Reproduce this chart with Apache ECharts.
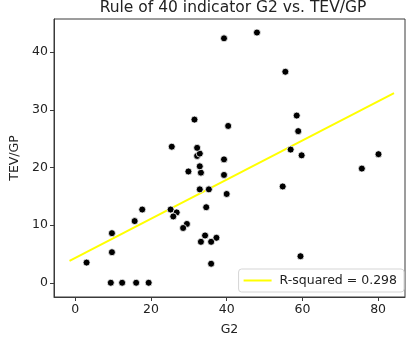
<!DOCTYPE html>
<html><head><meta charset="utf-8">
<script src="https://cdn.jsdelivr.net/npm/echarts@6/dist/echarts.min.js"></script>
<style>html,body{margin:0;padding:0;background:#fff}#c{width:408px;height:341px}</style>
</head><body><div id="c"></div>
<script>
var g2 = [3.0, 9.4, 12.4, 16.1, 19.4, 9.7, 9.7, 15.7, 17.7, 25.2, 26.8, 25.9, 29.5, 28.5,
  34.3, 37.3, 33.2, 35.9, 35.9, 34.6, 32.9, 35.3, 40.0, 29.9, 33.2, 39.3, 32.9, 39.3,
  32.2, 32.9, 32.2, 25.5, 40.4, 31.5, 39.3, 48.0, 55.5, 58.5, 58.9, 56.9, 59.8, 80.1,
  75.7, 54.8, 59.5];
var tevgp = [3.5, 0, 0, 0, 0, 5.3, 8.6, 10.7, 12.7, 12.7, 12.2, 11.5, 10.2, 9.5,
  8.2, 7.8, 7.1, 7.1, 3.3, 13.1, 16.2, 16.2, 15.4, 19.3, 19.1, 18.7, 20.2, 21.4,
  22.0, 22.4, 23.4, 23.6, 27.2, 28.3, 42.4, 43.4, 36.6, 29.0, 26.3, 23.1, 22.1, 22.3,
  19.8, 16.7, 4.6];
var fitX = [-1.5, 84.2];
var fitY = [3.8, 32.9];
var xTicks = [0, 20, 40, 60, 80];
var yTicks = [0, 10, 20, 30, 40];
var titleText = 'Rule of 40 indicator G2 vs. TEV/GP';
var legendText = 'R-squared = 0.298';

var pts = g2.map(function (x, i) { return [x, tevgp[i]]; });
var fit = fitX.map(function (x, i) { return [x, fitY[i]]; });
var font = 'DejaVu Sans';
var chart = echarts.init(document.getElementById('c'), null, {renderer: 'canvas'});
chart.setOption({
  animation: false,
  backgroundColor: '#fff',
  textStyle: {fontFamily: font},
  title: {text: titleText, left: 228, textAlign: 'center', top: -5,
    textStyle: {fontFamily: font, fontSize: 15.5, fontWeight: 'normal', color: '#222'}},
  grid: {left: 52, right: 3, top: 19, bottom: 43, show: true, borderColor: '#3a3a3a', borderWidth: 1},
  legend: {right: 4, bottom: 49, orient: 'vertical', data: [{name: legendText, icon: 'rect'}],
    itemWidth: 28, itemHeight: 2, backgroundColor: '#fff', borderColor: '#d5d5d5', borderWidth: 1,
    borderRadius: 3, padding: [5, 7, 5, 5],
    textStyle: {fontFamily: font, fontSize: 12.5, color: '#222', padding: [0, 0, 0, 3]}},
  xAxis: {type: 'value', min: -5.6, max: 87.1, name: 'G2', nameLocation: 'middle', nameGap: 26,
    nameTextStyle: {fontFamily: font, fontSize: 12.5, color: '#222'},
    splitLine: {show: false},
    axisLine: {show: true, onZero: false, lineStyle: {color: '#3a3a3a'}},
    axisTick: {show: true, length: 4, customValues: xTicks, lineStyle: {color: '#3a3a3a'}},
    axisLabel: {customValues: xTicks, fontFamily: font, fontSize: 12.5, color: '#222', margin: 6}},
  yAxis: {type: 'value', min: -2.47, max: 45.75, name: 'TEV/GP', nameLocation: 'middle', nameGap: 33,
    nameTextStyle: {fontFamily: font, fontSize: 12.5, color: '#222'},
    splitLine: {show: false},
    axisLine: {show: true, onZero: false, lineStyle: {color: '#3a3a3a'}},
    axisTick: {show: true, length: 4, customValues: yTicks, lineStyle: {color: '#3a3a3a'}},
    axisLabel: {customValues: yTicks, fontFamily: font, fontSize: 12.5, color: '#222', margin: 6}},
  series: [
    {type: 'scatter', name: 'points', data: pts, symbolSize: 7,
      itemStyle: {color: '#000', borderColor: '#fff', borderWidth: 0.8, opacity: 1}, z: 3},
    {type: 'line', name: legendText, data: fit, showSymbol: false, symbol: 'none',
      lineStyle: {color: '#ffff00', width: 2}, itemStyle: {color: '#ffff00'}, z: 2}
  ]
});
</script></body></html>
